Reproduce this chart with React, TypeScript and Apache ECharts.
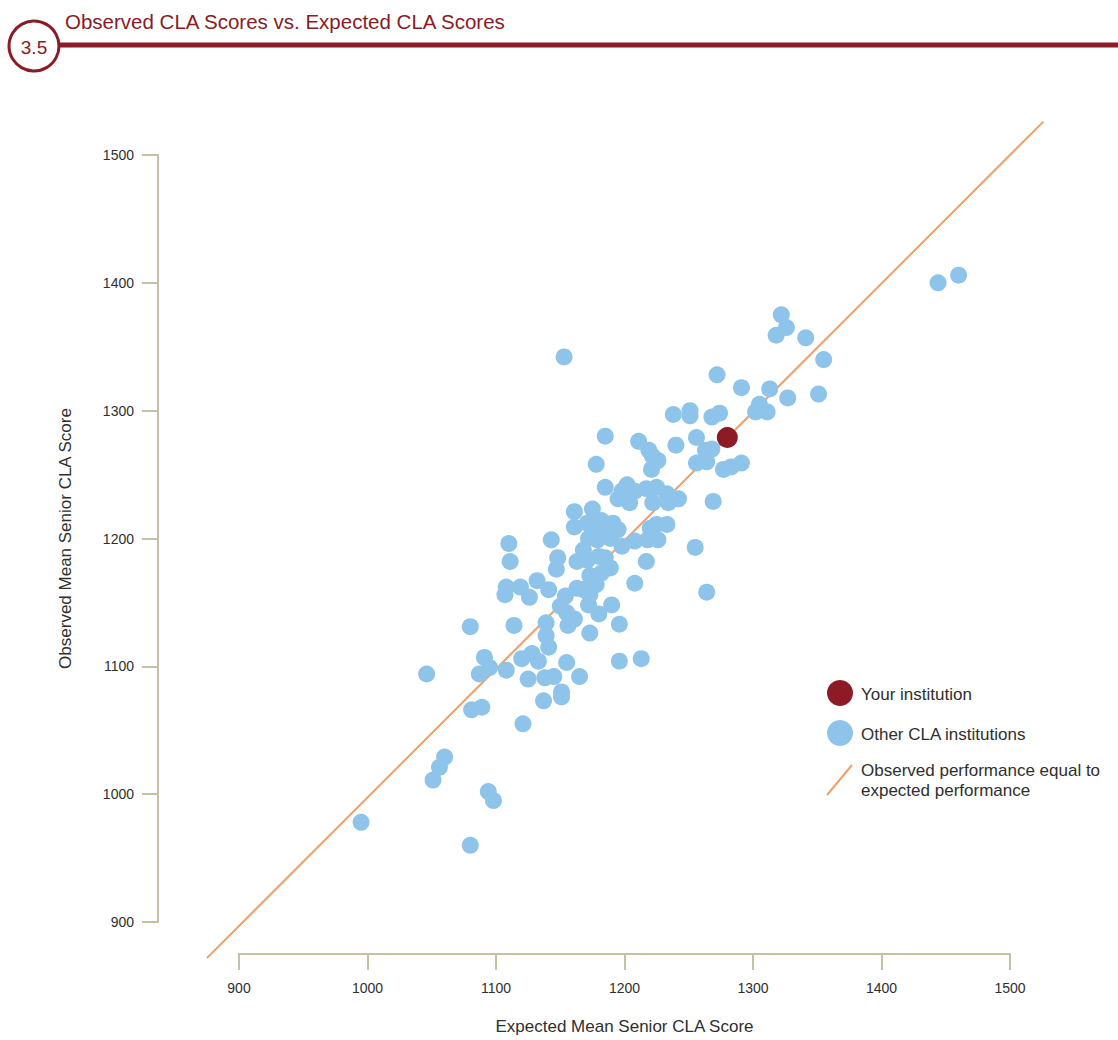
import React, { useEffect, useRef } from "react";
import * as echarts from "echarts";

const titleText = "Observed CLA Scores vs. Expected CLA Scores";
const sectionNumber = "3.5";
const xAxisTitle = "Expected Mean Senior CLA Score";
const yAxisTitle = "Observed Mean Senior CLA Score";
const legendLabels = ["Your institution", "Other CLA institutions", "Observed performance equal to\nexpected performance"];

const axisMin = 900;
const axisMax = 1500;
const axisInterval = 100;

// Other CLA institutions: expected (x) and observed (y) mean senior CLA scores
const expectedScores = [
  1460, 1444, 1322, 1326, 1318, 1341, 1355, 1272, 1291, 1313, 1327, 1351, 1305, 1302, 1311, 1251, 1251, 1238, 1268, 1274,
  1153, 1256, 1240, 1263, 1268, 1256, 1264, 1277, 1283, 1291, 1269, 1185, 1211, 1219, 1226, 1222, 1221, 1178, 1185, 1202,
  1198, 1208, 1195, 1204, 1217, 1225, 1233, 1242, 1234, 1222, 1161, 1175, 1161, 1171, 1182, 1191, 1195, 1186, 1178, 1172,
  1179, 1168, 1163, 1171, 1180, 1185, 1189, 1182, 1173, 1178, 1173, 1168, 1172, 1163, 1154, 1150, 1155, 1161, 1156, 1173,
  1180, 1190, 1196, 1198, 1208, 1218, 1226, 1220, 1225, 1233, 1217, 1208, 1255, 1264, 1110, 1111, 1143, 1148, 1147, 1132,
  1141, 1108, 1119, 1107, 1126, 1080, 1114, 1139, 1139, 1141, 1155, 1196, 1213, 1091, 1095, 1087, 1108, 1120, 1128, 1133,
  1125, 1138, 1145, 1165, 1151, 1151, 1137, 1081, 1089, 1046, 1121, 1060, 1056, 1051, 1094, 1098, 995, 1080, 1189,
];
const observedScores = [
  1406, 1400, 1375, 1365, 1359, 1357, 1340, 1328, 1318, 1317, 1310, 1313, 1305, 1299, 1299, 1300, 1296, 1297, 1295, 1298,
  1342, 1279, 1273, 1269, 1270, 1259, 1260, 1254, 1256, 1259, 1229, 1280, 1276, 1269, 1261, 1264, 1254, 1258, 1240, 1242,
  1237, 1237, 1231, 1228, 1239, 1240, 1235, 1231, 1228, 1228, 1221, 1223, 1209, 1212, 1214, 1212, 1207, 1207, 1208, 1200,
  1199, 1191, 1182, 1183, 1186, 1185, 1177, 1173, 1171, 1164, 1156, 1160, 1148, 1161, 1155, 1147, 1142, 1137, 1132, 1126,
  1141, 1148, 1133, 1194, 1198, 1199, 1199, 1208, 1211, 1211, 1182, 1165, 1193, 1158, 1196, 1182, 1199, 1185, 1176, 1167,
  1160, 1162, 1162, 1156, 1154, 1131, 1132, 1134, 1124, 1115, 1103, 1104, 1106, 1107, 1099, 1094, 1097, 1106, 1110, 1104,
  1090, 1091, 1092, 1092, 1080, 1076, 1073, 1066, 1068, 1094, 1055, 1029, 1021, 1011, 1002, 995, 978, 960, 1200,
];

const yourInstitution = [1280, 1279];
// y = x reference line, drawn slightly past the labelled axis range
const equalityLine = [875, 1526];

const DARK_RED = "#8c1b25";
const BLUE = "#8ec4ea";
const ORANGE = "#f0a06c";
const AXIS = "#c9bfa6";
const TEXT = "#2f2f2f";
const FONT = "'Liberation Sans', 'DejaVu Sans', sans-serif";

export default function App() {
  const ref = useRef<HTMLDivElement>(null);

  useEffect(() => {
    document.body.style.margin = "0";
    if (!ref.current) return;
    const chart = echarts.init(ref.current, undefined, { renderer: "svg" });
    const others = expectedScores.map((x, i) => [x, observedScores[i]]);
    const lineData = equalityLine.map((v) => [v, v]);

    // main plot: 900..1500 on both axes
    const gLeft = 239, gRight = 1010, gTop = 155, gBottom = 926;
    const pxPerUnit = (gRight - gLeft) / (axisMax - axisMin);
    // secondary (hidden) grid covering the extended range of the y=x line
    const lLeft = gLeft - (axisMin - equalityLine[0]) * pxPerUnit;
    const lRight = gRight + (equalityLine[1] - axisMax) * pxPerUnit;
    const lTop = gTop - (equalityLine[1] - axisMax) * pxPerUnit;
    const lBottom = gBottom + (axisMin - equalityLine[0]) * pxPerUnit;

    const axisCommon = {
      type: "value",
      gridIndex: 0,
      min: axisMin,
      max: axisMax,
      interval: axisInterval,
      splitLine: { show: false },
      axisLine: { show: true, lineStyle: { color: AXIS, width: 2 } },
      axisTick: { show: true, length: 16, lineStyle: { color: AXIS, width: 2 } },
      nameLocation: "middle",
      nameTextStyle: { color: TEXT, fontSize: 17, fontFamily: FONT },
    };
    const hiddenAxis = {
      type: "value",
      gridIndex: 1,
      min: equalityLine[0],
      max: equalityLine[1],
      show: false,
      splitLine: { show: false },
    };

    chart.setOption({
      animation: false,
      backgroundColor: "#ffffff",
      grid: [
        { left: gLeft, width: gRight - gLeft, top: gTop, height: gBottom - gTop },
        { left: lLeft, width: lRight - lLeft, top: lTop, height: lBottom - lTop },
      ],
      xAxis: [
        {
          ...axisCommon,
          offset: 32,
          name: xAxisTitle,
          nameGap: 64,
          axisLabel: { color: TEXT, fontSize: 14, fontFamily: FONT, margin: 27, formatter: (v: number) => String(v) },
        },
        hiddenAxis,
      ],
      yAxis: [
        {
          ...axisCommon,
          offset: 81,
          name: yAxisTitle,
          nameGap: 84,
          axisLabel: { color: TEXT, fontSize: 14, fontFamily: FONT, margin: 24, formatter: (v: number) => String(v) },
        },
        hiddenAxis,
      ],
      series: [
        {
          type: "line",
          xAxisIndex: 1,
          yAxisIndex: 1,
          data: lineData,
          symbol: "none",
          lineStyle: { color: ORANGE, width: 2 },
          z: 1,
        },
        {
          type: "scatter",
          data: others,
          symbolSize: 17,
          itemStyle: { color: BLUE, opacity: 1 },
          z: 2,
        },
        {
          type: "scatter",
          data: [yourInstitution],
          symbolSize: 21,
          itemStyle: { color: DARK_RED, opacity: 1 },
          z: 3,
        },
      ],
      graphic: [
        { type: "line", shape: { x1: 50, y1: 45, x2: 1118, y2: 45 }, style: { stroke: DARK_RED, lineWidth: 5 } },
        { type: "circle", shape: { cx: 34, cy: 46, r: 25 }, style: { fill: "#ffffff", stroke: DARK_RED, lineWidth: 3 } },
        {
          type: "text",
          x: 34,
          y: 47,
          style: { text: sectionNumber, fill: DARK_RED, font: `19px ${FONT}`, align: "center", verticalAlign: "middle" },
        },
        {
          type: "text",
          x: 65,
          y: 21,
          style: { text: titleText, fill: DARK_RED, font: `20.5px ${FONT}`, verticalAlign: "middle" },
        },
        { type: "circle", shape: { cx: 840, cy: 693, r: 13 }, style: { fill: DARK_RED } },
        {
          type: "text",
          x: 861,
          y: 694,
          style: { text: legendLabels[0], fill: TEXT, font: `17px ${FONT}`, verticalAlign: "middle" },
        },
        { type: "circle", shape: { cx: 840, cy: 733, r: 13 }, style: { fill: BLUE } },
        {
          type: "text",
          x: 861,
          y: 734,
          style: { text: legendLabels[1], fill: TEXT, font: `17px ${FONT}`, verticalAlign: "middle" },
        },
        { type: "line", shape: { x1: 827, y1: 795, x2: 852, y2: 765 }, style: { stroke: ORANGE, lineWidth: 2 } },
        {
          type: "text",
          x: 861,
          y: 760,
          style: { text: legendLabels[2], fill: TEXT, font: `17px ${FONT}`, lineHeight: 20, verticalAlign: "top" },
        },
      ],
    });

    return () => chart.dispose();
  }, []);

  return <div ref={ref} style={{ width: 1118, height: 1040 }} />;
}
